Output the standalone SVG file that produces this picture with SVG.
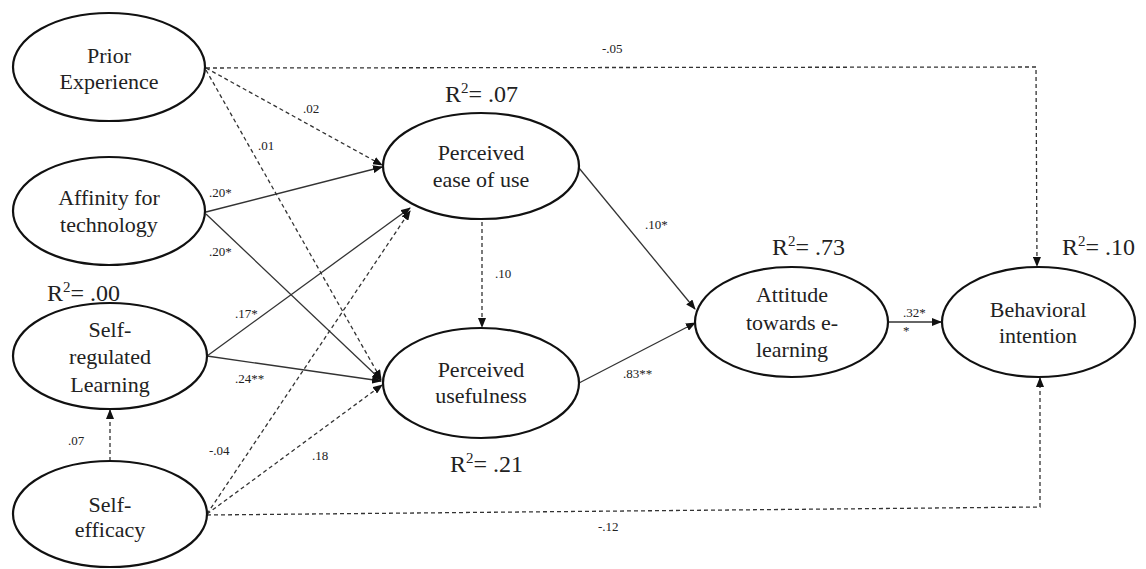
<svg xmlns="http://www.w3.org/2000/svg" width="1146" height="569" viewBox="0 0 1146 569">
<style>
.node ellipse{fill:#fff;stroke:#111;stroke-width:2.2}
.node text{font-family:"Liberation Serif",Tinos,"DejaVu Serif","Noto Serif",serif;font-size:22px;fill:#222;text-anchor:middle}
.r2{font-family:"Liberation Serif",Tinos,"DejaVu Serif","Noto Serif",serif;font-size:24px;fill:#222}
.lbl{font-family:"Liberation Serif",Tinos,"DejaVu Serif","Noto Serif",serif;font-size:13px;fill:#222}
.edge{fill:none;stroke:#333;stroke-width:1.3;marker-end:url(#arr)}
.dash{stroke-dasharray:4 3}
</style>
<defs>
<marker id="arr" markerWidth="10" markerHeight="8" refX="9" refY="4" orient="auto" markerUnits="userSpaceOnUse">
<path d="M0,0 L10,4 L0,8 Z" fill="#111"/>
</marker>
</defs>
<rect width="1146" height="569" fill="#fff"/>
<g id="connectors">
<path class="edge dash" d="M206,68 L1036,67 L1037,266"/>
<path class="edge dash" d="M206,68 L382,165"/>
<path class="edge dash" d="M206,70 L381,379"/>
<path class="edge" d="M206,212 L382,167"/>
<path class="edge" d="M206,214 L381,380"/>
<path class="edge" d="M207,356 L410,208"/>
<path class="edge" d="M207,356 L381,381"/>
<path class="edge dash" d="M110,461 L110,410"/>
<path class="edge dash" d="M207,514 L410,211"/>
<path class="edge dash" d="M207,514 L382,385"/>
<path class="edge dash" d="M207,515 L1040,507 L1040,378"/>
<path class="edge dash" d="M482,222 L482,327"/>
<path class="edge" d="M579,168 L695,309"/>
<path class="edge" d="M579,383 L695,323"/>
<path class="edge" d="M888,322 L941,322"/>
</g>
<g id="edge-labels">
<text class="lbl" x="602" y="53">-.05</text>
<text class="lbl" x="303" y="113">.02</text>
<text class="lbl" x="258" y="150">.01</text>
<text class="lbl" x="209" y="197">.20*</text>
<text class="lbl" x="209" y="256">.20*</text>
<text class="lbl" x="235" y="318">.17*</text>
<text class="lbl" x="235" y="383">.24**</text>
<text class="lbl" x="68" y="445">.07</text>
<text class="lbl" x="209" y="455">-.04</text>
<text class="lbl" x="312" y="460">.18</text>
<text class="lbl" x="645" y="229">.10*</text>
<text class="lbl" x="495" y="278">.10</text>
<text class="lbl" x="623" y="378">.83**</text>
<text class="lbl" x="903" y="317">.32*</text>
<text class="lbl" x="903" y="335">*</text>
<text class="lbl" x="598" y="531">-.12</text>
</g>
<g id="r2-labels">
<text class="r2" x="47" y="301">R<tspan font-size="15" dy="-9">2</tspan><tspan dy="9">= .00</tspan></text>
<text class="r2" x="445" y="102">R<tspan font-size="15" dy="-9">2</tspan><tspan dy="9">= .07</tspan></text>
<text class="r2" x="450" y="472">R<tspan font-size="15" dy="-9">2</tspan><tspan dy="9">= .21</tspan></text>
<text class="r2" x="772" y="255">R<tspan font-size="15" dy="-9">2</tspan><tspan dy="9">= .73</tspan></text>
<text class="r2" x="1062" y="255">R<tspan font-size="15" dy="-9">2</tspan><tspan dy="9">= .10</tspan></text>
</g>
<g id="prior-experience" class="node">
<ellipse cx="109" cy="67" rx="96" ry="54"/>
<text x="109" y="63">Prior</text>
<text x="109" y="89">Experience</text>
</g>
<g id="affinity" class="node">
<ellipse cx="109" cy="211" rx="96" ry="54"/>
<text x="109" y="205">Affinity  for</text>
<text x="109" y="232">technology</text>
</g>
<g id="self-regulated" class="node">
<ellipse cx="110" cy="356" rx="97" ry="53"/>
<text x="110" y="337">Self-</text>
<text x="110" y="364">regulated</text>
<text x="110" y="392">Learning</text>
</g>
<g id="self-efficacy" class="node">
<ellipse cx="110" cy="514" rx="97" ry="53"/>
<text x="110" y="512">Self-</text>
<text x="110" y="537">efficacy</text>
</g>
<g id="peou" class="node">
<ellipse cx="481" cy="166" rx="98" ry="53"/>
<text x="481" y="160">Perceived</text>
<text x="481" y="187">ease of use</text>
</g>
<g id="pu" class="node">
<ellipse cx="481" cy="383" rx="98" ry="55"/>
<text x="481" y="377">Perceived</text>
<text x="481" y="403">usefulness</text>
</g>
<g id="attitude" class="node">
<ellipse cx="791.5" cy="322" rx="96.5" ry="55"/>
<text x="792" y="302">Attitude</text>
<text x="792" y="330">towards e-</text>
<text x="792" y="357">learning</text>
</g>
<g id="behavioral-intention" class="node">
<ellipse cx="1038.5" cy="322" rx="96.5" ry="55"/>
<text x="1038" y="317">Behavioral</text>
<text x="1038" y="343">intention</text>
</g>
</svg>
